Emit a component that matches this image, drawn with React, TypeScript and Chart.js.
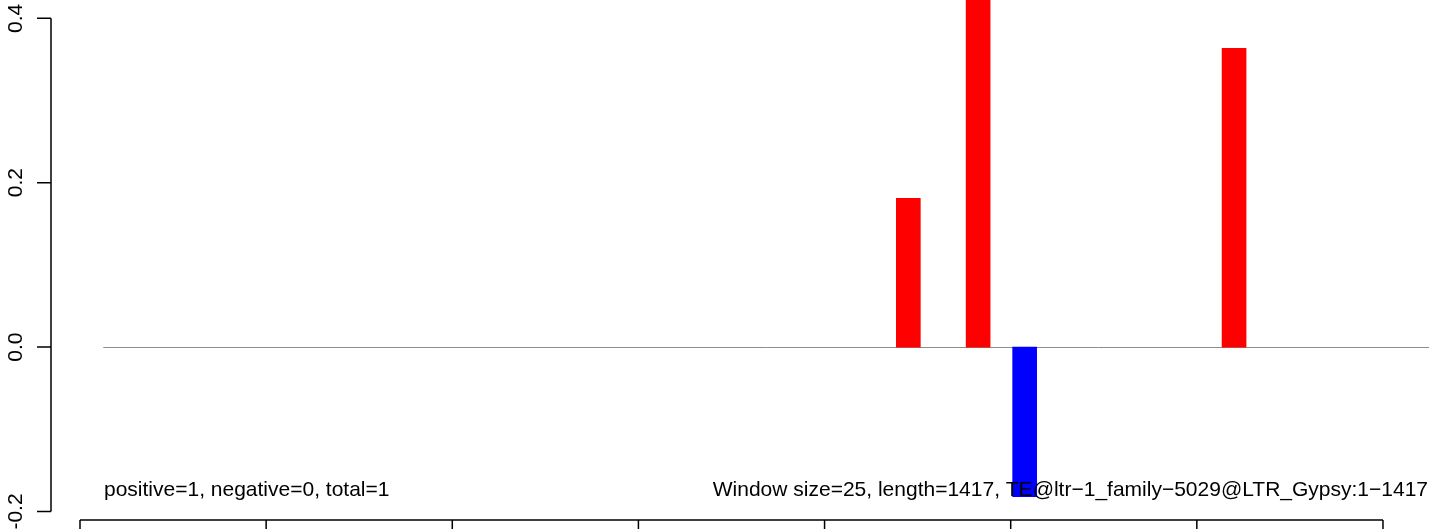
import React, { useEffect, useRef } from "react";
import { Chart, registerables } from "chart.js";

Chart.register(...registerables);

// window positions (bp) of non-zero windows and their scores
const positions: number[] = [890, 965, 1015, 1240];
const scores: number[] = [0.181, 0.5, -0.182, 0.3635];
const barColors: string[] = ["#FF0000", "#FF0000", "#0000FF", "#FF0000"];

const yTicks: number[] = [-0.2, 0.0, 0.2, 0.4];
const yTickLabels: string[] = ["-0.2", "0.0", "0.2", "0.4"];
const xTicks: number[] = [0, 200, 400, 600, 800, 1000, 1200, 1400];

const zeroLineStart = 25;
const zeroLineEnd = 1460;

const leftText = "positive=1, negative=0, total=1";
const rightText = "Window size=25, length=1417, TE@ltr\u22121_family\u22125029@LTR_Gypsy:1\u22121417";

const FONT = '"Liberation Sans", Arial, sans-serif';

const overlay = {
  id: "rOverlay",
  beforeDatasetsDraw(chart: any) {
    const ctx = chart.ctx;
    const x = chart.scales.x;
    const y = chart.scales.y;
    ctx.save();
    ctx.strokeStyle = "#8c8c8c";
    ctx.lineWidth = 1;
    ctx.beginPath();
    const y0 = Math.round(y.getPixelForValue(0)) + 0.5;
    ctx.moveTo(x.getPixelForValue(zeroLineStart), y0);
    ctx.lineTo(x.getPixelForValue(zeroLineEnd), y0);
    ctx.stroke();
    ctx.restore();
  },
  afterDatasetsDraw(chart: any) {
    const ctx = chart.ctx;
    const x = chart.scales.x;
    const y = chart.scales.y;
    ctx.save();
    ctx.strokeStyle = "#000";
    ctx.lineWidth = 1.5;
    // y axis
    const ax = 51;
    ctx.beginPath();
    ctx.moveTo(ax, y.getPixelForValue(yTicks[0]));
    ctx.lineTo(ax, y.getPixelForValue(yTicks[yTicks.length - 1]));
    yTicks.forEach((t) => {
      const py = y.getPixelForValue(t);
      ctx.moveTo(ax, py);
      ctx.lineTo(ax - 14, py);
    });
    ctx.stroke();
    // y labels rotated
    ctx.fillStyle = "#000";
    ctx.font = "21px " + FONT;
    ctx.textAlign = "center";
    ctx.textBaseline = "alphabetic";
    yTicks.forEach((t, i) => {
      const py = y.getPixelForValue(t);
      ctx.save();
      ctx.translate(22, py);
      ctx.rotate(-Math.PI / 2);
      ctx.fillText(yTickLabels[i], 0, 0);
      ctx.restore();
    });
    // x axis (ticks downward, labels off-canvas)
    const ay = 520;
    ctx.beginPath();
    ctx.moveTo(x.getPixelForValue(xTicks[0]), ay);
    ctx.lineTo(x.getPixelForValue(xTicks[xTicks.length - 1]), ay);
    xTicks.forEach((t) => {
      const px = x.getPixelForValue(t);
      ctx.moveTo(px, ay);
      ctx.lineTo(px, ay + 14);
    });
    ctx.stroke();
    // texts
    ctx.font = "21px " + FONT;
    ctx.textBaseline = "alphabetic";
    ctx.textAlign = "left";
    ctx.fillText(leftText, 104, 496);
    ctx.textAlign = "right";
    ctx.fillText(rightText, 1428, 496);
    ctx.restore();
  },
};

export default function App() {
  const ref = useRef<HTMLCanvasElement | null>(null);
  useEffect(() => {
    document.body.style.margin = "0";
    const canvas = ref.current;
    if (!canvas) return;
    const pxPerBp = 0.9307;
    const chart = new Chart(canvas, {
      type: "bar",
      data: {
        datasets: [
          {
            data: positions.map((p, i) => ({ x: p, y: scores[i] })),
            backgroundColor: barColors,
            borderWidth: 0,
            barThickness: 24,
          },
        ],
      },
      options: {
        animation: false,
        responsive: false,
        maintainAspectRatio: false,
        layout: { padding: 0 },
        plugins: { legend: { display: false }, tooltip: { enabled: false } },
        scales: {
          x: {
            type: "linear",
            display: false,
            offset: false,
            min: -80 / pxPerBp,
            max: (1429 - 80) / pxPerBp,
          },
          y: {
            type: "linear",
            display: false,
            min: -0.22129,
            max: 0.42226,
          },
        },
      },
      plugins: [overlay],
    });
    return () => chart.destroy();
  }, []);
  return (
    <div style={{ position: "absolute", left: 0, top: 0, width: 1429, height: 529, background: "#fff" }}>
      <canvas ref={ref} width={1429} height={529} style={{ display: "block", width: 1429, height: 529 }} />
    </div>
  );
}
